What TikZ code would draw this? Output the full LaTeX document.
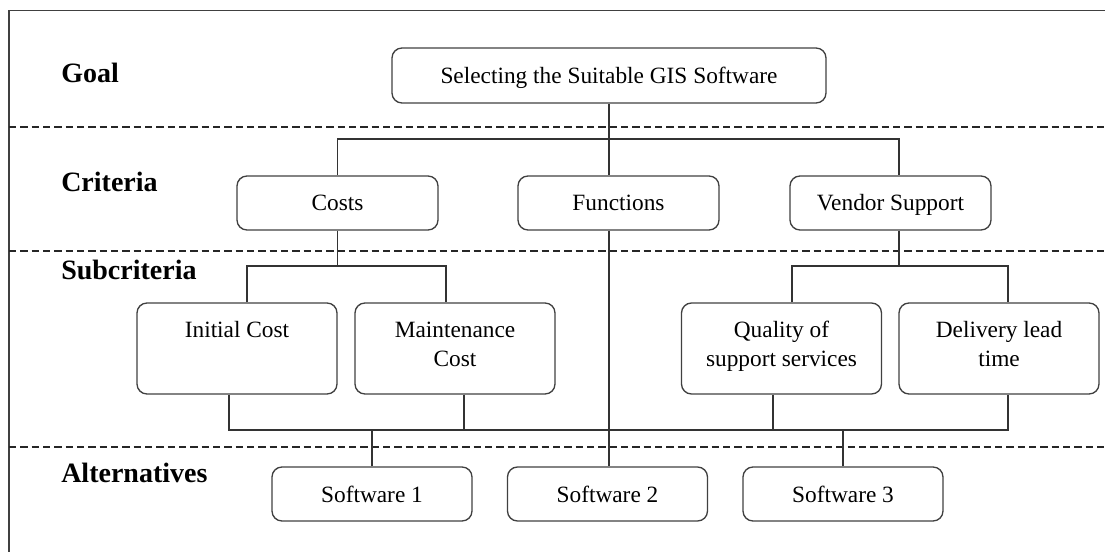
\documentclass[tikz,border=0pt]{standalone}
\usepackage{fontspec}
\setmainfont{Liberation Serif}

\begin{document}
\begin{tikzpicture}[x=0.75pt,y=-0.75pt,
    box/.style={draw=black!75,line width=1pt,rounded corners=7.5pt,inner sep=0pt,
      align=center,font=\fontsize{17.5}{22}\selectfont},
    onebox/.style={box,minimum width=150.75pt,minimum height=40.5pt,text height=12pt,text depth=0pt},
    subbox/.style={box,minimum width=150pt,minimum height=68.25pt},
    level/.style={anchor=base west,inner sep=0pt,font=\fontsize{21}{25}\selectfont\bfseries},
    link/.style={draw=black!80,line width=1pt},
    sep/.style={draw=black!85,line width=0.9pt,dash pattern=on 5.5pt off 3pt}]
        \useasboundingbox (0,0) rectangle (1105,552);
        \draw[black!75,line width=1pt] (9,552) -- (9,10.5) -- (1105,10.5);
        % layer separators
        \draw[sep] (9,127) -- (1105,127);
        \draw[sep] (9,251) -- (1105,251);
        \draw[sep] (9,447) -- (1105,447);
        % layer names
        \node[level] (lgoal) at (61,83) {Goal};
        \node[level] (lcrit) at (61,192) {Criteria};
        \node[level] (lsub) at (61,279) {Subcriteria};
        \node[level] (lalt) at (61,482) {Alternatives};
        % boxes
        \node[onebox,minimum width=325.5pt,minimum height=41.25pt] (goal) at (609,75.5)
          {Selecting the Suitable GIS Software};
        \node[onebox] (costs) at (337.5,203) {Costs};
        \node[onebox] (functions) at (618.5,203) {Functions};
        \node[onebox] (vendor) at (890.5,203) {Vendor Support};
        \node[subbox] (initial) at (237,348.5) {Initial Cost\\\strut};
        \node[subbox] (maint) at (455,348.5) {Maintenance\\Cost\strut};
        \node[subbox] (quality) at (781.5,348.5) {Quality of\\support services\strut};
        \node[subbox] (delivery) at (999,348.5) {Delivery lead\\time\strut};
        \node[onebox,minimum width=150pt] (sw1) at (372,494) {Software 1};
        \node[onebox,minimum width=150pt] (sw2) at (607.5,494) {Software 2};
        \node[onebox,minimum width=150pt] (sw3) at (843,494) {Software 3};
        % bars
        \coordinate (cbar) at (0,139);
        \coordinate (sbar) at (0,266);
        \coordinate (abar) at (0,430);
        \coordinate (vtop) at ([xshift=6.4pt]vendor.north);
        \coordinate (vbot) at ([xshift=6.4pt]vendor.south);
        % goal to criteria
        \draw[link] (goal.south) -- (goal.south |- functions.north);
        \draw[link] (costs.north) |- (vtop |- cbar) -- (vtop);
        % criteria to subcriteria
        \draw[link] (costs.south) -- (costs.south |- sbar);
        \draw[link] ([xshift=7.5pt]initial.north) |- ([xshift=-6.75pt]maint.north |- sbar)
          -- ([xshift=-6.75pt]maint.north);
        \draw[link] (vbot) -- (vbot |- sbar);
        \draw[link] ([xshift=7.9pt]quality.north) |- ([xshift=6.75pt]delivery.north |- sbar)
          -- ([xshift=6.75pt]delivery.north);
        % subcriteria to alternatives
        \draw[link] ([xshift=-6pt]initial.south) |- ([xshift=6.75pt]delivery.south |- abar)
          -- ([xshift=6.75pt]delivery.south);
        \draw[link] ([xshift=6.75pt]maint.south) -- ([xshift=6.75pt]maint.south |- abar);
        \draw[link] ([xshift=-6.4pt]quality.south) -- ([xshift=-6.4pt]quality.south |- abar);
        \draw[link] (goal.south |- functions.south) -- (goal.south |- sw2.north);
        \draw[link] (sw1.north) -- (sw1.north |- abar);
        \draw[link] (sw3.north) -- (sw3.north |- abar);
\end{tikzpicture}
\end{document}
